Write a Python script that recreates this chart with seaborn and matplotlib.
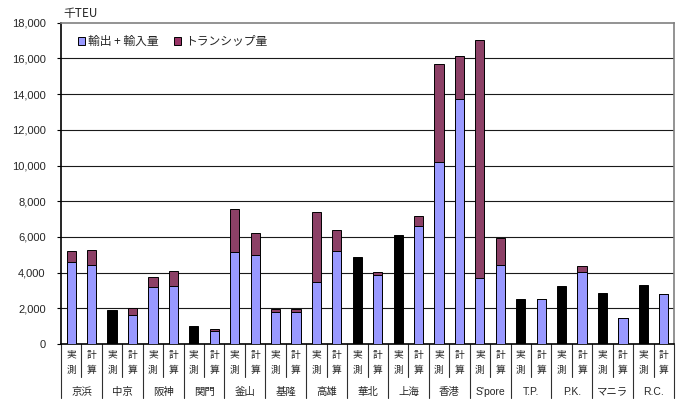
import numpy as np
import pandas as pd
import matplotlib
matplotlib.use("Agg")
import matplotlib.pyplot as plt
import matplotlib.transforms as mtransforms
from matplotlib.patches import Patch
import seaborn as sns

# Ports (two bars each: measured / calculated)
ports = ["京浜", "中京", "阪神", "関門", "釜山", "基隆", "高雄", "華北",
         "上海", "香港", "S'pore", "T.P.", "P.K.", "マニラ", "R.C."]
kinds = ["実測", "計算"]

# Measured values (千TEU); None where only the total is known
meas_io = [4600, None, 3200, None, 5150, 1800, 3450, None,
           None, 10200, 3700, None, None, None, None]
meas_ts = [600, None, 550, None, 2400, 150, 3950, None,
           None, 5500, 13350, None, None, None, None]
meas_total_only = [None, 1900, None, 1000, None, None, None, 4850,
                   6100, None, None, 2500, 3250, 2850, 3300]

# Calculated values (千TEU)
calc_io = [4400, 1600, 3250, 750, 5000, 1800, 5200, 3850,
           6600, 13750, 4450, 2500, 4050, 1450, 2800]
calc_ts = [850, 400, 850, 100, 1200, 150, 1200, 200,
           550, 2400, 1500, 0, 300, 0, 0]

yticks = np.arange(0, 18001, 2000)

BLUE = "#9999FF"
MAROON = "#993366"
BLACK = "#000000"

rows = []
for i, p in enumerate(ports):
    if meas_total_only[i] is not None:
        rows.append(dict(slot=f"{p}|実測", port=p, kind="実測",
                         total=meas_total_only[i], io=np.nan, style="total"))
    else:
        rows.append(dict(slot=f"{p}|実測", port=p, kind="実測",
                         total=meas_io[i] + meas_ts[i], io=meas_io[i], style="split"))
    rows.append(dict(slot=f"{p}|計算", port=p, kind="計算",
                     total=calc_io[i] + calc_ts[i], io=calc_io[i], style="split"))
df = pd.DataFrame(rows)
order = list(df["slot"])

sns.set_theme(style="white")
plt.rcParams["font.family"] = ["Noto Sans CJK JP", "DejaVu Sans"]

fig = plt.figure(figsize=(6.81, 4.0), dpi=100)
ax = fig.add_axes([61 / 681, 1 - 344 / 400, (674 - 61) / 681, (344 - 22.7) / 400])

# grid lines behind the bars
ax.set_axisbelow(True)
for y in yticks[1:-1]:
    ax.axhline(y, color="#1a1a1a", lw=0.8, zorder=0)

bw = 0.45
# full stacked height (transshipment on top) or total-only bars
sns.barplot(data=df, x="slot", y="total", hue="style", order=order,
            palette={"split": MAROON, "total": BLACK}, dodge=False,
            width=bw, errorbar=None, edgecolor="black", linewidth=0.7,
            legend=False, ax=ax)
# export + import portion
sns.barplot(data=df[df["io"].notna()], x="slot", y="io", order=order,
            color=BLUE, width=bw, errorbar=None, edgecolor="black",
            linewidth=0.7, saturation=1, ax=ax)
for patch in ax.patches:
    patch.set_zorder(3)

ax.set_ylim(0, 18000)
ax.set_xlim(-0.5, len(order) - 0.5)
ax.set_yticks(yticks)
ax.set_yticklabels([f"{v:,}" for v in yticks], family="Liberation Sans", fontsize=8)
ax.tick_params(axis="y", left=True, length=3, width=0.8, pad=8, color="black")
ax.set_xticks([])
ax.set_xlabel("")
ax.set_ylabel("")

for s in ["left", "bottom"]:
    ax.spines[s].set_color("black")
    ax.spines[s].set_linewidth(1.2)
for s in ["top", "right"]:
    ax.spines[s].set_color("#808080")
    ax.spines[s].set_linewidth(1.2)

# two-level category axis
trans = mtransforms.blended_transform_factory(ax.transData, ax.transAxes)
for k in range(len(order) + 1):
    x = k - 0.5
    y_end = -0.168 if k % 2 == 0 else -0.103
    ax.plot([x, x], [0, y_end], color="#303030", lw=0.8, transform=trans, clip_on=False)
for j, kind in enumerate(df["kind"]):
    ax.text(j, -0.034, kind[0], transform=trans, ha="center", va="center", fontsize=7)
    ax.text(j, -0.081, kind[1], transform=trans, ha="center", va="center", fontsize=7)
for i, p in enumerate(ports):
    fam = ["Liberation Sans"] if p.isascii() else ["Noto Sans CJK JP", "DejaVu Sans"]
    ax.text(2 * i + 0.5, -0.150, p, transform=trans, ha="center", va="center",
            fontsize=7.5, family=fam)

fig.text(63 / 681, 1 - 14 / 400, "千TEU", ha="left", va="center", fontsize=8.5)

handles = [Patch(facecolor=BLUE, edgecolor="black", lw=0.7),
           Patch(facecolor=MAROON, edgecolor="black", lw=0.7)]
ax.legend(handles, ["輸出 + 輸入量", "トランシップ量"], loc="upper left",
          bbox_to_anchor=(0.01, 0.995), ncol=2, frameon=False, fontsize=8.5,
          handlelength=0.6, handleheight=0.6, handletextpad=0.3, columnspacing=1.3)

fig.savefig("out.png", dpi=100, facecolor="white")
